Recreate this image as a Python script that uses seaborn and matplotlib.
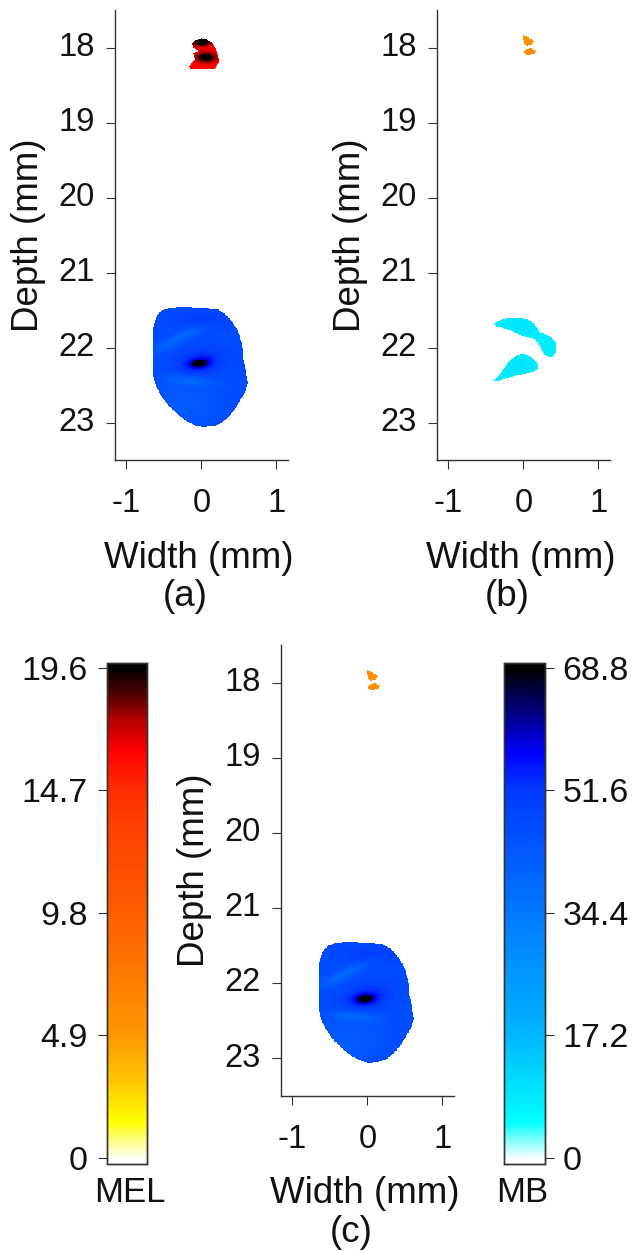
import numpy as np
import matplotlib
matplotlib.use("Agg")
import matplotlib.pyplot as plt
import seaborn as sns
from matplotlib.path import Path
from matplotlib.colors import LinearSegmentedColormap

# ---------------- data ----------------
X_LIM = (-1.15, 1.15)
Y_LIM = (17.5, 23.5)
CELL = 0.01
X_TICKS = [-1, 0, 1]
X_TICK_LABELS = ["-1", "0", "1"]
Y_TICKS = [18, 19, 20, 21, 22, 23]
Y_TICK_LABELS = ["18", "19", "20", "21", "22", "23"]

MEL_TICKS = [0, 4.9, 9.8, 14.7, 19.6]
MEL_TICK_LABELS = ["0", "4.9", "9.8", "14.7", "19.6"]
MB_TICKS = [0, 17.2, 34.4, 51.6, 68.8]
MB_TICK_LABELS = ["0", "17.2", "34.4", "51.6", "68.8"]
MEL_RANGE = (-0.24, 19.81)
MB_RANGE = (-0.86, 69.55)

MEL_CMAP_VALUES = [-0.24, 0.0, 1.4, 3.0, 4.8, 7.3, 9.6, 13.3, 14.9, 16.3, 17.6, 18.6, 19.6, 19.81]
MEL_CMAP_COLORS = ["#ffffff", "#fffff0", "#ffff00", "#ffc800", "#ff9800", "#ff7a00", "#ff5f00",
                   "#ff4000", "#ff2a00", "#ff0000", "#b00000", "#500000", "#000000", "#000000"]
MB_CMAP_VALUES = [-0.86, 0.0, 4.9, 12.8, 17.2, 32.0, 43.0, 52.0, 57.0, 62.0, 68.8, 69.55]
MB_CMAP_COLORS = ["#ffffff", "#f0ffff", "#00ffff", "#00d0ff", "#00b4ff", "#0082ff", "#005aff",
                  "#0038ff", "#0000ff", "#000090", "#000000", "#000000"]

# MB inclusion (panels a and c): outline in mm, base value, features
MB_BLOB_X = [-0.64, -0.62, -0.58, -0.52, -0.42, -0.25, 0.0, 0.20, 0.30, 0.40, 0.49, 0.54,
             0.56, 0.60, 0.62, 0.58, 0.52, 0.45, 0.36, 0.26, 0.15, 0.02, -0.08, -0.20,
             -0.33, -0.45, -0.55, -0.62, -0.65, -0.655]
MB_BLOB_Y = [21.75, 21.64, 21.56, 21.50, 21.47, 21.46, 21.47, 21.48, 21.54, 21.64, 21.78, 21.95,
             22.15, 22.35, 22.48, 22.60, 22.70, 22.82, 22.93, 23.01, 23.05, 23.06, 23.04, 22.98,
             22.88, 22.76, 22.62, 22.48, 22.30, 22.00]
MB_BLOB_BASE = 46.5
# (x, y, sx, sy, angle_deg, amplitude)
MB_BLOB_FEATURES = [
    (-0.03, 22.21, 0.07, 0.032, -5, 22.0),
    (-0.02, 22.20, 0.22, 0.11, -10, 10.0),
    (0.05, 21.62, 0.25, 0.08, 0, 5.0),
    (-0.30, 21.88, 0.28, 0.05, -27, -7.0),
    (-0.15, 22.44, 0.22, 0.05, 5, -7.0),
    (-0.25, 22.75, 0.30, 0.20, 0, -4.0),
]

# MEL inclusion in panel (a)
MEL_A_X = [-0.11, 0.0, 0.133, 0.20, 0.235, 0.177, -0.133, -0.165, -0.09, -0.11, -0.02, -0.11, -0.12]
MEL_A_Y = [17.92, 17.87, 17.92, 18.03, 18.18, 18.29, 18.29, 18.25, 18.16, 18.07, 18.05, 18.00, 17.95]
MEL_A_BASE = 16.0
MEL_A_FEATURES = [
    (0.0, 17.92, 0.10, 0.045, 0, 4.5),
    (0.06, 18.13, 0.10, 0.05, 0, 4.2),
]

# MEL inclusion in panels (b) and (c): two small pieces
MEL_B_TOP_X = [-0.004, 0.062, 0.15, 0.107, 0.04, 0.01]
MEL_B_TOP_Y = [17.83, 17.86, 17.92, 17.96, 17.98, 17.94]
MEL_B_BOT_X = [0.018, 0.107, 0.173, 0.15, 0.04, 0.01]
MEL_B_BOT_Y = [18.03, 18.01, 18.05, 18.09, 18.10, 18.07]
MEL_B_BASE = 5.5

# MB pieces in panel (b)
MB_B_UP_X = [-0.40, -0.30, -0.15, 0.05, 0.15, 0.22, 0.35, 0.43, 0.44, 0.38, 0.28, 0.22, 0.15, 0.0, -0.20, -0.35]
MB_B_UP_Y = [21.68, 21.63, 21.60, 21.62, 21.68, 21.80, 21.84, 21.92, 22.05, 22.13, 22.10, 21.98, 21.88, 21.85, 21.76, 21.72]
MB_B_LO_X = [-0.40, -0.30, -0.22, -0.12, 0.0, 0.10, 0.18, 0.20, 0.12, -0.05, -0.20, -0.35]
MB_B_LO_Y = [22.44, 22.34, 22.22, 22.12, 22.08, 22.12, 22.20, 22.28, 22.33, 22.36, 22.40, 22.45]
MB_B_BASE = 8.0
MB_B_FEATURES = [(-0.05, 22.24, 0.12, 0.08, 0, 2.0), (0.0, 21.70, 0.15, 0.06, 0, 1.5)]

# ---------------- grid ----------------
nx = int(round((X_LIM[1] - X_LIM[0]) / CELL))
ny = int(round((Y_LIM[1] - Y_LIM[0]) / CELL))
xc = X_LIM[0] + CELL * (np.arange(nx) + 0.5)
yc = Y_LIM[0] + CELL * (np.arange(ny) + 0.5)
XX, YY = np.meshgrid(xc, yc)
PTS = np.column_stack([XX.ravel(), YY.ravel()])


def field(outlines, base, features):
    inside = np.zeros(XX.shape, bool)
    for ox, oy in outlines:
        inside |= Path(np.column_stack([ox, oy])).contains_points(PTS).reshape(XX.shape)
    val = np.full(XX.shape, float(base))
    for fx, fy, sx, sy, ang, amp in features:
        a = np.deg2rad(ang)
        dx, dy = XX - fx, YY - fy
        u = dx * np.cos(a) + dy * np.sin(a)
        v = -dx * np.sin(a) + dy * np.cos(a)
        val += amp * np.exp(-0.5 * ((u / sx) ** 2 + (v / sy) ** 2))
    return np.where(inside, val, np.nan)


def make_cmap(name, values, colors, rng):
    pos = [(v - rng[0]) / (rng[1] - rng[0]) for v in values]
    return LinearSegmentedColormap.from_list(name, list(zip(pos, colors)))


mel_cmap = make_cmap("mel", MEL_CMAP_VALUES, MEL_CMAP_COLORS, MEL_RANGE)
mb_cmap = make_cmap("mb", MB_CMAP_VALUES, MB_CMAP_COLORS, MB_RANGE)

mb_a = np.clip(field([(MB_BLOB_X, MB_BLOB_Y)], MB_BLOB_BASE, MB_BLOB_FEATURES), 0, 68.8)
mel_a = np.clip(field([(MEL_A_X, MEL_A_Y)], MEL_A_BASE, MEL_A_FEATURES), 0, 19.6)
mel_b = field([(MEL_B_TOP_X, MEL_B_TOP_Y), (MEL_B_BOT_X, MEL_B_BOT_Y)], MEL_B_BASE, [])
mb_b = field([(MB_B_UP_X, MB_B_UP_Y), (MB_B_LO_X, MB_B_LO_Y)], MB_B_BASE, MB_B_FEATURES)

# ---------------- figure ----------------
sns.set_theme(style="ticks")
plt.rcParams["font.family"] = ["Liberation Sans", "DejaVu Sans"]
TXT = "#111111"
SPINE = "#333333"
TICK_FS = 23.5
LABEL_FS = 26.5
CB_FS = 24.5

W, H = 636, 1251
fig = plt.figure(figsize=(W / 100, H / 100), dpi=100)
fig.patch.set_facecolor("white")


def rect(l, t, w, h):
    return [l / W, 1 - (t + h) / H, w / W, h / H]


ax_a = fig.add_axes(rect(115, 10, 172.7, 450))
ax_b = fig.add_axes(rect(437, 10, 172.7, 450))
ax_c = fig.add_axes(rect(281, 645, 172.7, 450.7))
cax_mel = fig.add_axes(rect(106.7, 662.7, 40, 501))
cax_mb = fig.add_axes(rect(504.3, 662.7, 40.7, 501))

hm = dict(xticklabels=False, yticklabels=False, rasterized=True)
sns.heatmap(mb_a, ax=ax_a, cmap=mb_cmap, vmin=MB_RANGE[0], vmax=MB_RANGE[1], cbar=True, cbar_ax=cax_mb, **hm)
sns.heatmap(mel_a, ax=ax_a, cmap=mel_cmap, vmin=MEL_RANGE[0], vmax=MEL_RANGE[1], cbar=True, cbar_ax=cax_mel, **hm)
sns.heatmap(mb_b, ax=ax_b, cmap=mb_cmap, vmin=MB_RANGE[0], vmax=MB_RANGE[1], cbar=False, **hm)
sns.heatmap(mel_b, ax=ax_b, cmap=mel_cmap, vmin=MEL_RANGE[0], vmax=MEL_RANGE[1], cbar=False, **hm)
sns.heatmap(mb_a, ax=ax_c, cmap=mb_cmap, vmin=MB_RANGE[0], vmax=MB_RANGE[1], cbar=False, **hm)
sns.heatmap(mel_b, ax=ax_c, cmap=mel_cmap, vmin=MEL_RANGE[0], vmax=MEL_RANGE[1], cbar=False, **hm)

xt_idx = [(t - X_LIM[0]) / CELL for t in X_TICKS]
yt_idx = [(t - Y_LIM[0]) / CELL for t in Y_TICKS]

for ax, letter in [(ax_a, "(a)"), (ax_b, "(b)"), (ax_c, "(c)")]:
    ax.set_facecolor("white")
    ax.set_aspect("equal")
    ax.set_xlim(0, nx)
    ax.set_ylim(ny, 0)
    for s in ["left", "bottom"]:
        ax.spines[s].set_visible(True)
        ax.spines[s].set_color(SPINE)
        ax.spines[s].set_linewidth(1.0)
    for s in ["top", "right"]:
        ax.spines[s].set_visible(False)
    ax.set_xticks(xt_idx)
    ax.set_xticklabels(X_TICK_LABELS, rotation=0, fontsize=TICK_FS, color=TXT)
    ax.set_yticks(yt_idx)
    ax.set_yticklabels(Y_TICK_LABELS, rotation=0, va="center", fontsize=TICK_FS, color=TXT)
    ax.tick_params(axis="both", which="major", direction="out", length=6.5, width=0.8,
                   color=SPINE, left=True, bottom=True, top=False, right=False)
    ax.tick_params(axis="x", pad=14)
    ax.tick_params(axis="y", pad=8)
    ax.set_xlabel("Width (mm)", fontsize=LABEL_FS, color=TXT, va="center")
    ax.xaxis.set_label_coords(0.485, -0.218)
    ax.set_ylabel("Depth (mm)", fontsize=LABEL_FS, color=TXT, va="center")
    ax.yaxis.set_label_coords(-0.50, 0.5)
    ax.text(0.405, -0.304, letter, transform=ax.transAxes, ha="center", va="center",
            fontsize=LABEL_FS, color=TXT)

# colorbars
for cax, ticks, labels, side, name, lx, rng in [
    (cax_mel, MEL_TICKS, MEL_TICK_LABELS, "left", "MEL", 130, MEL_RANGE),
    (cax_mb, MB_TICKS, MB_TICK_LABELS, "right", "MB", 522, MB_RANGE),
]:
    cax.set_yticks(ticks)
    cax.set_yticklabels(labels, fontsize=CB_FS, color=TXT)
    cax.yaxis.set_ticks_position(side)
    cax.tick_params(axis="y", length=6.5, width=0.8, color=SPINE, pad=7 if side == "left" else 6)
    cax.set_ylim(rng)
    for sp in cax.spines.values():
        sp.set_visible(True)
        sp.set_color(SPINE)
        sp.set_linewidth(1.0)
    fig.text(lx / W, 1 - 1192 / H, name, ha="center", va="center", fontsize=25, color=TXT)

# restore colorbar outlines (seaborn sets them to zero width)
for coll in ax_a.collections:
    if getattr(coll, "colorbar", None) is not None:
        coll.colorbar.outline.set_linewidth(1.0)
        coll.colorbar.outline.set_edgecolor(SPINE)

fig.savefig("out.png", dpi=100, facecolor="white")
